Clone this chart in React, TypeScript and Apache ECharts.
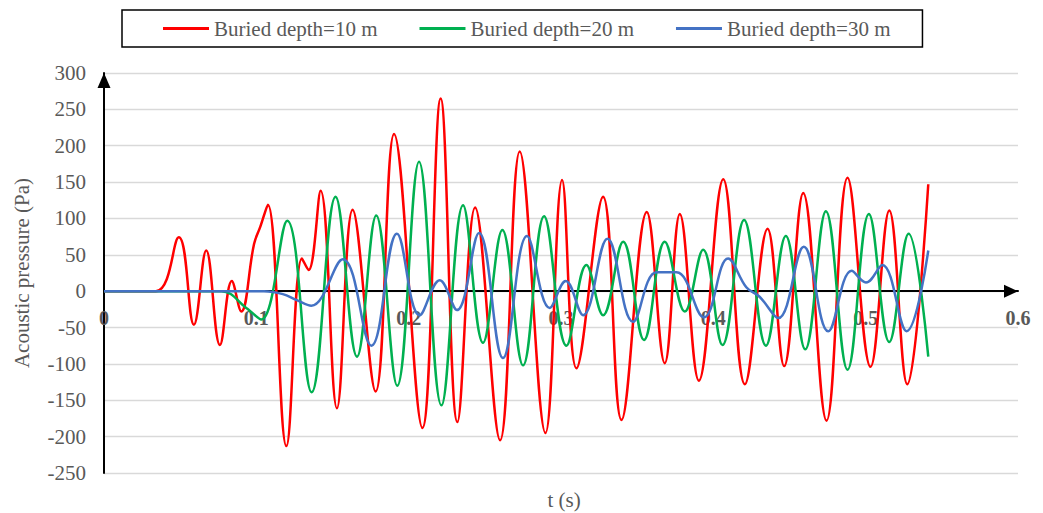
import React, { useEffect, useRef } from 'react';
import * as echarts from 'echarts';

const FONT = '"Times New Roman", "Liberation Serif", serif';

const seriesNames = ['Buried depth=10 m', 'Buried depth=20 m', 'Buried depth=30 m'];
const seriesColors = ['#FF0000', '#00B050', '#4472C4'];

const Y_MIN = -250;
const Y_MAX = 300;
const X_MIN = 0;
const X_MAX = 0.6;

// t (s), acoustic pressure (Pa)
const depth10: [number, number][] = [
  [0, 0], [0.034, 0], [0.0491, 74], [0.059, -46], [0.0671, 56], [0.0761, -74],
  [0.0839, 14], [0.0901, -28], [0.0985, 65], [0.1025, 88], [0.1076, 119],
  [0.1197, -213], [0.1299, 45], [0.1343, 29], [0.1422, 138], [0.1529, -161],
  [0.1632, 112], [0.1783, -138], [0.1904, 216], [0.209, -188], [0.221, 265],
  [0.232, -180], [0.2436, 115], [0.26, -205], [0.2729, 192], [0.2898, -195],
  [0.3007, 153], [0.3101, -106], [0.3276, 130], [0.3397, -177], [0.3563, 109],
  [0.3681, -99], [0.378, 106], [0.3905, -123], [0.4065, 154], [0.4207, -128],
  [0.4356, 86], [0.4465, -103], [0.459, 135], [0.4743, -178], [0.4881, 156],
  [0.5032, -104], [0.5155, 111], [0.5273, -128], [0.5411, 147],
];

const depth20: [number, number][] = [
  [0, 0], [0.077, 0], [0.0934, -23], [0.1032, -39], [0.1203, 97], [0.1363, -139],
  [0.152, 130], [0.1661, -90], [0.1787, 104], [0.1925, -130], [0.2068, 178],
  [0.2215, -157], [0.2357, 118], [0.2488, -71], [0.2615, 84], [0.2751, -102],
  [0.2889, 103], [0.3036, -75], [0.3167, 36], [0.3276, -33], [0.3408, 68],
  [0.3545, -67], [0.3681, 68], [0.3813, -28], [0.3933, 57], [0.406, -74],
  [0.4202, 98], [0.4345, -75], [0.4476, 76], [0.4603, -80], [0.4739, 110],
  [0.4881, -108], [0.5021, 106], [0.5155, -70], [0.5282, 79], [0.5411, -90],
];

const depth30: [number, number][] = [
  [0, 0], [0.105, 0], [0.1174, -4], [0.1262, -12], [0.1361, -20], [0.1568, 44],
  [0.1755, -75], [0.1923, 79], [0.2072, -33], [0.2204, 15], [0.2317, -26],
  [0.2462, 80], [0.2619, -92], [0.2777, 76], [0.2926, -23], [0.3031, 14],
  [0.3145, -33], [0.3305, 72], [0.3473, -42], [0.3627, 26], [0.3758, 26],
  [0.3938, -36], [0.4097, 45], [0.4218, 5], [0.4305, -8], [0.4426, -37],
  [0.4594, 61], [0.4754, -55], [0.4908, 28], [0.5002, 12], [0.5109, 36],
  [0.5269, -55], [0.5411, 56],
];

const seriesData = [depth10, depth20, depth30];

const WIDTH = 1043;
const HEIGHT = 513;
const GRID = { left: 104, right: 25, top: 73, bottom: 40 };

export default function App() {
  const ref = useRef<HTMLDivElement>(null);
  useEffect(() => {
    if (!ref.current) return;
    const chart = echarts.init(ref.current, undefined, { renderer: 'svg' });
    const gridHeight = HEIGHT - GRID.top - GRID.bottom;
    // distance from the grid bottom up to the zero line, so the tick labels sit under it
    const zeroOffset = -((0 - Y_MIN) / (Y_MAX - Y_MIN)) * gridHeight;
    const option: any = {
      animation: false,
      backgroundColor: '#ffffff',
      textStyle: { fontFamily: FONT },
      grid: { ...GRID, containLabel: false },
      legend: {
        left: 122,
        top: 10,
        padding: [8, 32, 8, 41],
        itemGap: 42,
        itemWidth: 46,
        itemHeight: 3,
        icon: 'rect',
        textGap: 4,
        borderColor: '#000000',
        borderWidth: 1.5,
        textStyle: { color: '#595959', fontSize: 21, fontFamily: FONT },
        data: seriesNames,
      },
      xAxis: [
        {
          type: 'value',
          min: X_MIN,
          max: X_MAX,
          interval: 0.1,
          axisLine: {
            onZero: true,
            lineStyle: { color: '#000000', width: 2 },
            symbol: ['none', 'triangle'],
            symbolSize: [13, 14],
            symbolOffset: [0, -7],
          },
          axisTick: { show: false },
          axisLabel: { show: false },
          splitLine: { show: false },
        },
        {
          type: 'value',
          min: X_MIN,
          max: X_MAX,
          interval: 0.1,
          position: 'bottom',
          offset: zeroOffset,
          axisLine: { show: false, onZero: false },
          axisTick: { show: false },
          axisLabel: { color: '#595959', fontSize: 20, fontWeight: 'bold', margin: 17, fontFamily: FONT },
          splitLine: { show: false },
        },
      ],
      yAxis: {
        type: 'value',
        min: Y_MIN,
        max: Y_MAX,
        interval: 50,
        name: 'Acoustic pressure (Pa)',
        nameLocation: 'middle',
        nameGap: 72,
        nameRotate: 90,
        nameTextStyle: { color: '#595959', fontSize: 21, fontFamily: FONT },
        axisLine: {
          show: true,
          onZero: false,
          lineStyle: { color: '#000000', width: 2 },
          symbol: ['none', 'triangle'],
          symbolSize: [13, 15],
          symbolOffset: [0, -7.5],
        },
        axisTick: { show: false },
        axisLabel: { color: '#595959', fontSize: 21, margin: 18, fontFamily: FONT },
        splitLine: { lineStyle: { color: '#d9d9d9', width: 1.3 } },
      },
      graphic: [
        {
          type: 'text',
          x: 564,
          y: 500,
          style: {
            text: 't (s)',
            fill: '#595959',
            font: `21px ${FONT}`,
            align: 'center',
            verticalAlign: 'middle',
          },
        },
      ],
      series: seriesNames.map((name, i) => ({
        name,
        type: 'line',
        xAxisIndex: 0,
        data: seriesData[i],
        smooth: 0.4,
        symbol: 'none',
        showSymbol: false,
        lineStyle: { color: seriesColors[i], width: 2.5 },
        itemStyle: { color: seriesColors[i] },
      })),
    };
    chart.setOption(option);
    return () => chart.dispose();
  }, []);
  return (
    <div
      ref={ref}
      style={{ position: 'fixed', left: 0, top: 0, width: WIDTH, height: HEIGHT, background: '#fff' }}
    />
  );
}
